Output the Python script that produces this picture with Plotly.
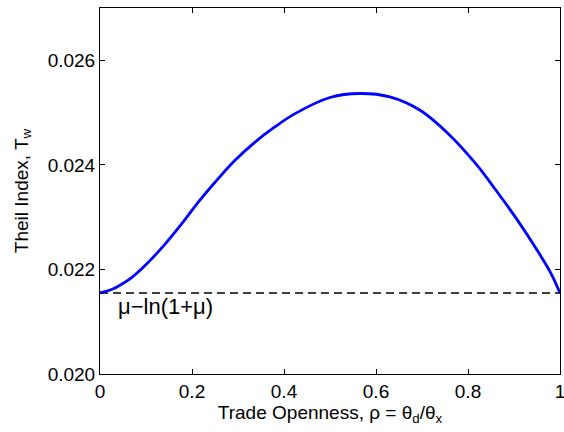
import plotly.graph_objects as go

rho = [0.0, 0.025, 0.046, 0.068, 0.104, 0.141, 0.177, 0.215, 0.250, 0.293, 0.337,
       0.380, 0.424, 0.500, 0.565, 0.630, 0.696, 0.757, 0.819, 0.862, 0.906, 0.949, 0.980, 1.0]
theil = [0.02155, 0.021615, 0.021712, 0.02184, 0.022129, 0.02248, 0.022865, 0.02330,
         0.023667, 0.024083, 0.024436, 0.024725, 0.02498, 0.025288, 0.025365, 0.0253,
         0.025044, 0.024596, 0.02400, 0.02350, 0.022962, 0.022385, 0.02193, 0.02155]
baseline = 0.02155
baseline_label = "μ−ln(1+μ)"
x_ticks = [0, 0.2, 0.4, 0.6, 0.8, 1]
x_ticklabels = ["0", "0.2", "0.4", "0.6", "0.8", "1"]
y_ticks = [0.020, 0.022, 0.024, 0.026]
y_ticklabels = ["0.020", "0.022", "0.024", "0.026"]

FONT = "Liberation Sans, Arial"
FS = 19

fig = go.Figure()
fig.add_trace(go.Scatter(x=[0, 1], y=[baseline, baseline], mode="lines",
                         line=dict(color="black", width=1.5, dash="8px,5px"),
                         hoverinfo="skip", showlegend=False))
fig.add_trace(go.Scatter(x=rho, y=theil, mode="lines",
                         line=dict(color="#0000FF", width=2.8, shape="spline", smoothing=1.0),
                         showlegend=False))
fig.add_annotation(x=0.034, y=baseline, xref="x", yref="y", text=baseline_label,
                   showarrow=False, xanchor="left", yanchor="top", yshift=1,
                   font=dict(family=FONT, size=22, color="black"))

axis_common = dict(showline=True, linecolor="black", linewidth=1, mirror="ticks",
                   ticks="inside", ticklen=5, tickcolor="black", showgrid=False,
                   zeroline=False, tickfont=dict(family=FONT, size=FS, color="black"),
                   ticklabeloverflow="allow")
fig.update_xaxes(range=[0, 1], tickvals=x_ticks, ticktext=x_ticklabels,
                 title=dict(text="Trade Openness, ρ = θ<sub>d</sub>/θ<sub>x</sub>",
                            font=dict(family=FONT, size=FS, color="black"),
                            standoff=0),
                 **axis_common)
fig.update_yaxes(range=[0.020, 0.027], tickvals=y_ticks, ticktext=y_ticklabels,
                 title=dict(text="Theil Index, T<sub>w</sub>",
                            font=dict(family=FONT, size=FS, color="black"),
                            standoff=14),
                 **axis_common)
fig.update_layout(width=564, height=432, margin=dict(l=100, r=4, t=8, b=58, autoexpand=False),
                  plot_bgcolor="white", paper_bgcolor="white")
fig.write_html("out.html", post_script="document.body.style.margin='0';",
               config={"displayModeBar": False})
